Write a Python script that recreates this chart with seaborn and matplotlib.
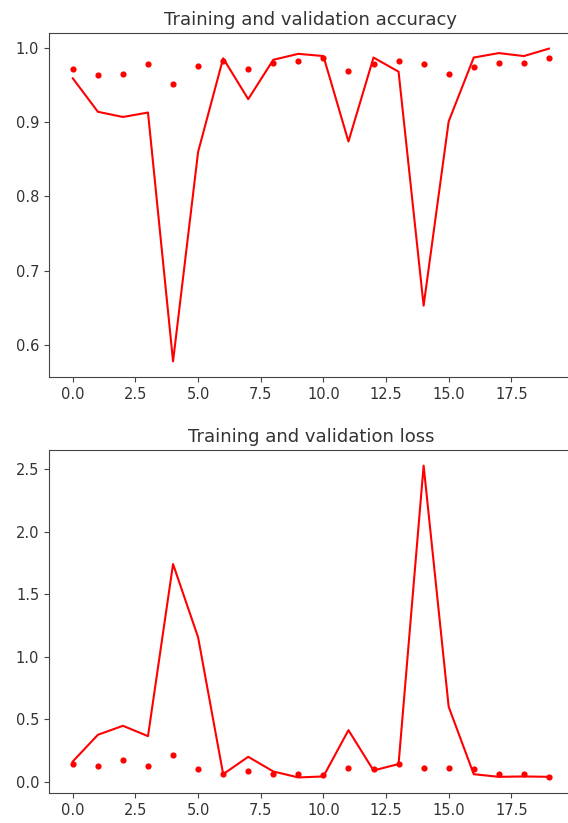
import numpy as np
import matplotlib
matplotlib.use('Agg')
import matplotlib.pyplot as plt
import seaborn as sns

# 20 epochs of training history
epochs = np.arange(20)

acc = [0.971, 0.963, 0.965, 0.978, 0.952, 0.976, 0.982, 0.972, 0.980, 0.982,
       0.987, 0.969, 0.978, 0.982, 0.978, 0.965, 0.974, 0.980, 0.980, 0.986]
val_acc = [0.959, 0.914, 0.907, 0.913, 0.578, 0.860, 0.986, 0.931, 0.984, 0.992,
           0.989, 0.874, 0.987, 0.968, 0.653, 0.901, 0.987, 0.993, 0.989, 0.999]

loss = [0.142, 0.123, 0.173, 0.123, 0.213, 0.099, 0.061, 0.085, 0.061, 0.059,
        0.053, 0.112, 0.101, 0.139, 0.112, 0.112, 0.099, 0.061, 0.061, 0.040]
val_loss = [0.163, 0.376, 0.448, 0.365, 1.741, 1.155, 0.061, 0.200, 0.083, 0.035,
            0.043, 0.413, 0.091, 0.142, 2.528, 0.600, 0.061, 0.040, 0.043, 0.040]

plt.rcParams['font.family'] = ['DejaVu Sans']
plt.rcParams['text.color'] = '#333333'
plt.rcParams['xtick.color'] = '#444444'
plt.rcParams['ytick.color'] = '#444444'
plt.rcParams['xtick.labelcolor'] = '#333333'
plt.rcParams['ytick.labelcolor'] = '#333333'
plt.rcParams['axes.edgecolor'] = '#444444'

fig = plt.figure(figsize=(5.68, 8.23), dpi=100)
# the reference is cropped on the right, so the axes run just past the edge
ax1 = fig.add_axes([0.0863, 0.5419, 0.922, 0.4180])
ax2 = fig.add_axes([0.0863, 0.0364, 0.922, 0.4168])

panels = [
    (ax1, acc, val_acc, 'Training and validation accuracy'),
    (ax2, loss, val_loss, 'Training and validation loss'),
]

for ax, train, val, title in panels:
    sns.scatterplot(x=epochs, y=train, color='red', s=20, linewidth=0, ax=ax, zorder=3)
    sns.lineplot(x=epochs, y=val, color='red', linewidth=1.5, ax=ax)
    ax.set_title(title, fontsize=13)
    ax.tick_params(labelsize=10.5)
    ax.set_xlabel('')
    ax.set_ylabel('')
    # right edge is cut off in the reference
    ax.spines['right'].set_visible(False)

fig.savefig('out.png', dpi=100)
